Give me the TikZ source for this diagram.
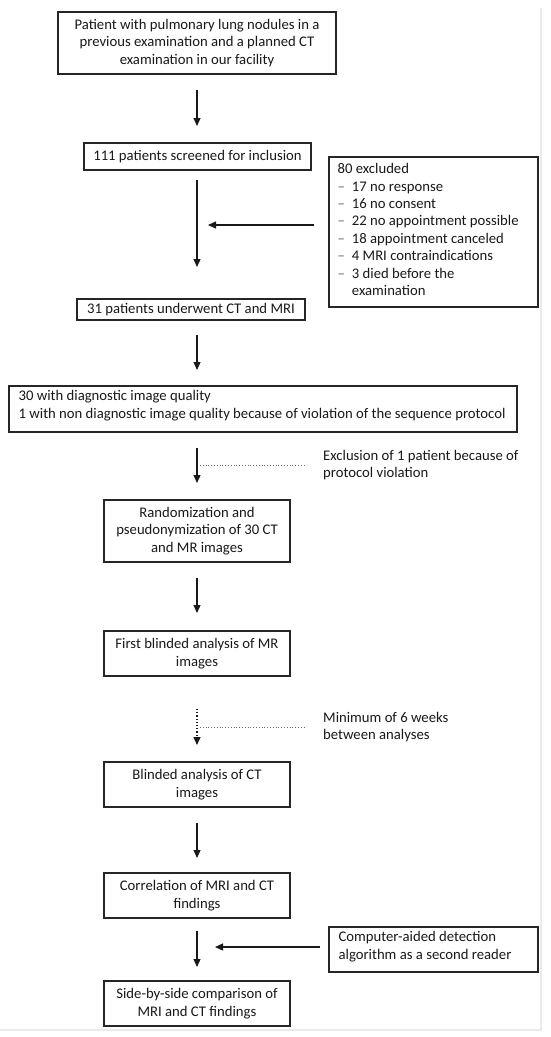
\documentclass[tikz,border=0pt]{standalone}
\usepackage{fontspec}
\setmainfont{Carlito}
\usetikzlibrary{arrows.meta,calc}
\begin{document}
\begin{tikzpicture}[x=1pt,y=-1pt,
  font=\fontsize{14.7}{17.4}\selectfont,
  box/.style={draw=black!85,line width=1.2pt,inner sep=0pt,align=center,text=black!90},
  flow/.style={line width=1.2pt,draw=black!90,-{Triangle[width=7pt,length=8pt]}},
  dots/.style={line width=0.8pt,draw=black!60,dotted},
  note/.style={anchor=north west,inner sep=0pt,align=left,text=black!90}]
\useasboundingbox (0,0) rectangle (550,1037);
\fill[white] (0,0) rectangle (550,1037);
% faint frame shadow
\draw[black!8,line width=2pt] (541,8) -- (541,1030) -- (0,1030);

\node[box,minimum width=278pt,minimum height=62pt] (n1) at (197,43)
  {Patient with pulmonary lung nodules in a\\previous examination and a planned CT\\examination in our facility};
\node[box,minimum width=227pt,minimum height=27pt] (n2) at (197.5,156.5)
  {111 patients screened for inclusion};
\node[box,minimum width=209pt,minimum height=150pt] (ex) at (433.5,232) {};
\node[note] (exl) at ($(ex.north west)+(9,5)$) {%
  \begin{tabular}{@{}l@{\hspace{7pt}}l@{}}
  \multicolumn{2}{@{}l}{80 excluded}\\
  {\color{black!60}\textendash} & 17 no response\\
  {\color{black!60}\textendash} & 16 no consent\\
  {\color{black!60}\textendash} & 22 no appointment possible\\
  {\color{black!60}\textendash} & 18 appointment canceled\\
  {\color{black!60}\textendash} & 4 MRI contraindications\\
  {\color{black!60}\textendash} & 3 died before the\\
   & examination
  \end{tabular}};
\node[box,minimum width=228pt,minimum height=21pt] (n3) at (191,309.5)
  {31 patients underwent CT and MRI};
\node[box,minimum width=508pt,minimum height=46pt] (n4) at (263,409) {};
\node[note] (n4t) at ($(n4.north west)+(10,5)$)
  {30 with diagnostic image quality\\1 with non diagnostic image quality because of violation of the sequence protocol};
\node[box,minimum width=186pt,minimum height=62pt] (n5) at (197,531)
  {Randomization and\\pseudonymization of 30 CT\\and MR images};
\node[box,minimum width=186pt,minimum height=45pt] (n6) at (197,653.5)
  {First blinded analysis of MR\\images};
\node[box,minimum width=186pt,minimum height=45pt] (n7) at (197,784.5)
  {Blinded analysis of CT\\images};
\node[box,minimum width=186pt,minimum height=45pt] (n8) at (197,895.5)
  {Correlation of MRI and CT\\findings};
\node[box,minimum width=209pt,minimum height=45pt] (cad) at (433.5,949.5) {};
\node[note] (cadt) at ($(cad.north west)+(10,5)$)
  {Computer-aided detection\\algorithm as a second reader};
\node[box,minimum width=186pt,minimum height=45pt] (n9) at (197,1003.5)
  {Side-by-side comparison of\\MRI and CT findings};

\node[note] (s1) at (323,450) {Exclusion of 1 patient because of\\protocol violation};
\node[note] (s2) at (323,712) {Minimum of 6 weeks\\between analyses};

% arrow end points (centre line x = 197)
\coordinate (a1s) at (197,90);  \coordinate (a1e) at (197,126);
\coordinate (a2s) at (197,180); \coordinate (a2e) at (197,267);
\coordinate (a3s) at (197,335); \coordinate (a3e) at (197,370);
\coordinate (a4s) at (197,448); \coordinate (a4e) at (197,483);
\coordinate (a5s) at (197,578); \coordinate (a5e) at (197,613);
\coordinate (a6s) at (197,709); \coordinate (a6e) at (197,745);
\coordinate (a7s) at (197,823); \coordinate (a7e) at (197,858);
\coordinate (a8s) at (197,931); \coordinate (a8e) at (197,967);

\draw[flow] (a1s) -- (a1e);
\draw[flow] (a2s) -- (a2e);
\draw[flow] (a3s) -- (a3e);
\draw[flow] (a4s) -- (a4e);
\draw[flow] (a5s) -- (a5e);
\draw[flow,dotted] (a6s) -- (a6e);
\draw[flow] (a7s) -- (a7e);
\draw[flow] (a8s) -- (a8e);

% side connectors
\coordinate (h1s) at (314,225); \coordinate (h1e) at (208,225);
\draw[flow] (h1s) -- (h1e);
\coordinate (h2s) at (320,947); \coordinate (h2e) at (215,947);
\draw[flow] (h2s) -- (h2e);
\coordinate (d1s) at (200,465); \coordinate (d1e) at (306,465);
\draw[dots] (d1s) -- (d1e);
\coordinate (d2s) at (200,727); \coordinate (d2e) at (306,727);
\draw[dots] (d2s) -- (d2e);
\end{tikzpicture}
\end{document}
